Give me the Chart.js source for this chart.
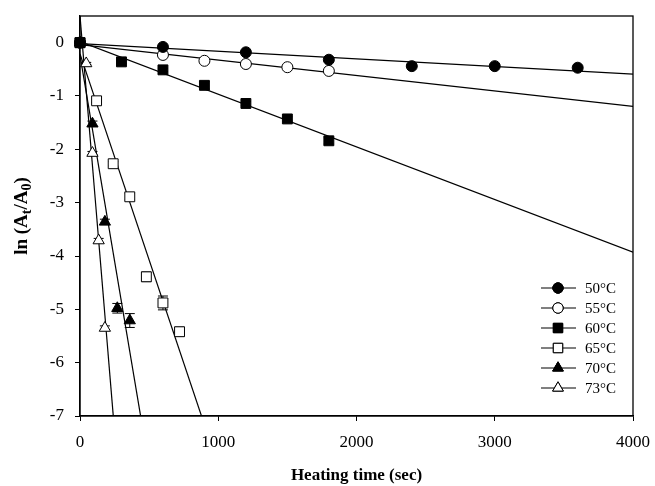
<!DOCTYPE html>
<html>
<head>
<meta charset="utf-8">
<script src="https://cdn.jsdelivr.net/npm/chart.js@4"></script>
<style>
  body { margin: 0; background: #fff; }
  #wrap { width: 655px; height: 486px; }
</style>
</head>
<body>
<div id="wrap"><canvas id="kinetics"></canvas></div>
<script>
// data
const labels = ['50°C', '55°C', '60°C', '65°C', '70°C', '73°C'];
const time50 = [0, 600, 1200, 1800, 2400, 3000, 3600];
const ln50 = [0, -0.08, -0.18, -0.32, -0.44, -0.44, -0.47];
const err50 = [0, 0.02, 0.02, 0.03, 0.02, 0.02, 0.02];
const time55 = [0, 600, 900, 1200, 1500, 1800];
const ln55 = [0, -0.23, -0.34, -0.40, -0.46, -0.53];
const err55 = [0, 0.02, 0.02, 0.02, 0.02, 0.02];
const time60 = [0, 300, 600, 900, 1200, 1500, 1800];
const ln60 = [0, -0.36, -0.51, -0.80, -1.14, -1.43, -1.84];
const err60 = [0, 0.03, 0.03, 0.07, 0.04, 0.04, 0.06];
const time65 = [0, 120, 240, 360, 480, 600, 720];
const ln65 = [0, -1.09, -2.27, -2.89, -4.39, -4.88, -5.42];
const err65 = [0, 0.03, 0.04, 0.06, 0.09, 0.13, 0.085];
const time70 = [0, 90, 180, 270, 360];
const ln70 = [0, -1.52, -3.36, -4.98, -5.21];
const err70 = [0, 0.05, 0.05, 0.09, 0.13];
const time73 = [0, 45, 90, 135, 180];
const ln73 = [0, -0.39, -2.07, -3.71, -5.35];
const err73 = [0, 0.02, 0.03, 0.04, 0.04];
const xTicks = [0, 1000, 2000, 3000, 4000];
const yTicks = [0, -1, -2, -3, -4, -5, -6, -7];

const times = [time50, time55, time60, time65, time70, time73];
const values = [ln50, ln55, ln60, ln65, ln70, ln73];
const errors = [err50, err55, err60, err65, err70, err73];
const styles = ['circle', 'circle', 'rect', 'rect', 'triangle', 'triangle'];
const fills = ['#000', '#fff', '#000', '#fff', '#000', '#fff'];
const radii = [5.5, 5.5, 7, 7, 6.5, 6.5];

const serif = 'Liberation Serif, Times New Roman, serif';

// least squares fit for each temperature
function fit(xs, ys) {
  const n = xs.length;
  const mx = xs.reduce((a, b) => a + b, 0) / n;
  const my = ys.reduce((a, b) => a + b, 0) / n;
  let sxy = 0, sxx = 0;
  for (let i = 0; i < n; i++) {
    sxy += (xs[i] - mx) * (ys[i] - my);
    sxx += (xs[i] - mx) * (xs[i] - mx);
  }
  const m = sxy / sxx;
  return { m: m, b: my - m * mx };
}

const datasets = [];
// fitted lines first so markers sit on top
for (let i = 0; i < labels.length; i++) {
  const f = fit(times[i], values[i]);
  datasets.push({
    label: labels[i] + ' fit',
    data: [{ x: 0, y: f.b }, { x: 4000, y: f.b + 4000 * f.m }],
    showLine: true,
    borderColor: '#000',
    borderWidth: 1.2,
    pointRadius: 0,
    order: 2
  });
}
for (let i = 0; i < labels.length; i++) {
  datasets.push({
    label: labels[i],
    data: times[i].map((t, j) => ({ x: t, y: values[i][j] })),
    errors: errors[i],
    showLine: false,
    pointStyle: styles[i],
    pointRadius: radii[i],
    pointBackgroundColor: fills[i],
    pointBorderColor: '#000',
    pointBorderWidth: 1,
    clip: false,
    order: 1
  });
}

// error bars, frame, legend and y title
const extras = {
  id: 'extras',
  beforeDatasetsDraw(chart) {
    const ctx = chart.ctx;
    const ys = chart.scales.y;
    ctx.save();
    ctx.strokeStyle = '#000';
    ctx.lineWidth = 1;
    chart.data.datasets.forEach((ds, di) => {
      if (!ds.errors) return;
      const meta = chart.getDatasetMeta(di);
      meta.data.forEach((pt, j) => {
        const e = ds.errors[j];
        if (!e) return;
        const y0 = ys.getPixelForValue(ds.data[j].y + e);
        const y1 = ys.getPixelForValue(ds.data[j].y - e);
        ctx.beginPath();
        ctx.moveTo(pt.x, y0); ctx.lineTo(pt.x, y1);
        ctx.moveTo(pt.x - 5, y0); ctx.lineTo(pt.x + 5, y0);
        ctx.moveTo(pt.x - 5, y1); ctx.lineTo(pt.x + 5, y1);
        ctx.stroke();
      });
    });
    ctx.restore();
  },
  afterDraw(chart) {
    const ctx = chart.ctx;
    const a = chart.chartArea;
    ctx.save();
    ctx.strokeStyle = '#000';
    ctx.lineWidth = 1.3;
    ctx.strokeRect(a.left, a.top, a.right - a.left, a.bottom - a.top);

    // legend
    ctx.lineWidth = 1;
    ctx.font = '15px ' + serif;
    ctx.textBaseline = 'middle';
    ctx.fillStyle = '#000';
    for (let i = 0; i < labels.length; i++) {
      const y = 288 + i * 20;
      ctx.beginPath();
      ctx.moveTo(541, y); ctx.lineTo(576, y);
      ctx.stroke();
      Chart.helpers.drawPoint(ctx, {
        pointStyle: styles[i], radius: radii[i] * 0.95, borderWidth: 1
      }, 558, y);
      ctx.fillStyle = fills[i];
      ctx.fill();
      ctx.stroke();
      ctx.fillStyle = '#000';
      ctx.fillText(labels[i], 585, y + 1);
    }

    // y title with subscripts
    ctx.translate(21, 216);
    ctx.rotate(-Math.PI / 2);
    const big = 'bold 19px ' + serif;
    const small = 'bold 14px ' + serif;
    const parts = [['ln (A', big, 0], ['t', small, 5], ['/A', big, 0], ['0', small, 5], [')', big, 0]];
    let w = 0;
    parts.forEach(p => { ctx.font = p[1]; w += ctx.measureText(p[0]).width; });
    let x = -w / 2;
    ctx.textAlign = 'left';
    parts.forEach(p => {
      ctx.font = p[1];
      ctx.fillText(p[0], x, p[2] + 1);
      x += ctx.measureText(p[0]).width;
    });
    ctx.restore();
  }
};

const chart = new Chart(document.getElementById('kinetics'), {
  type: 'scatter',
  data: { datasets: datasets },
  options: {
    responsive: true,
    maintainAspectRatio: false,
    animation: false,
    layout: { padding: { top: 16, right: 22, left: 0, bottom: 0 } },
    plugins: {
      legend: { display: false },
      tooltip: { enabled: false }
    },
    scales: {
      x: {
        type: 'linear',
        min: 0,
        max: 4000,
        afterBuildTicks: s => { s.ticks = xTicks.map(v => ({ value: v })); },
        afterFit: s => { s.height = 70; s.paddingLeft = 0; s.paddingRight = 0; },
        grid: { drawOnChartArea: false, drawTicks: true, tickLength: 5, color: '#000' },
        border: { display: true, color: '#000', width: 1.3 },
        ticks: {
          color: '#000',
          font: { family: serif, size: 17 },
          padding: 11,
          maxRotation: 0,
          callback: v => String(v)
        },
        title: {
          display: true,
          text: 'Heating time (sec)',
          color: '#000',
          font: { family: serif, size: 17, weight: 'bold' },
          padding: { top: 12, bottom: 0 }
        }
      },
      y: {
        type: 'linear',
        min: -7,
        max: 0.5,
        afterBuildTicks: s => { s.ticks = yTicks.map(v => ({ value: v })); },
        afterFit: s => { s.width = 80; s.paddingTop = 0; s.paddingBottom = 0; },
        grid: { drawOnChartArea: false, drawTicks: true, tickLength: 5, color: '#000' },
        border: { display: true, color: '#000', width: 1.3 },
        ticks: {
          color: '#000',
          font: { family: serif, size: 17 },
          padding: 11,
          callback: v => String(v)
        }
      }
    }
  },
  plugins: [extras]
});
</script>
</body>
</html>
